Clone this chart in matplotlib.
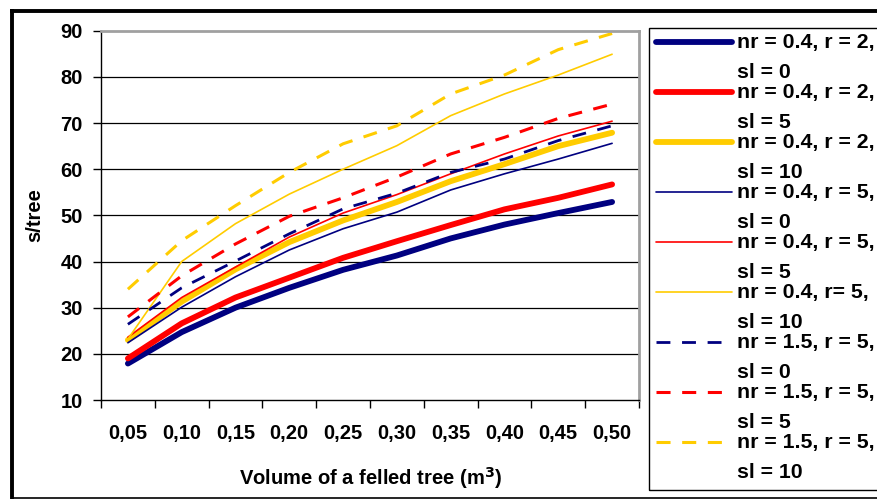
import matplotlib.pyplot as plt
from matplotlib.lines import Line2D
from matplotlib.patches import Rectangle

plt.rcParams['font.family'] = ['Liberation Sans', 'DejaVu Sans']
plt.rcParams['font.weight'] = 'bold'

# data
volumes = ["0,05", "0,10", "0,15", "0,20", "0,25", "0,30", "0,35", "0,40", "0,45", "0,50"]
nr04_r2_sl0 = [17.9, 24.7, 30.0, 34.3, 38.2, 41.3, 45.0, 48.0, 50.5, 52.9]
nr04_r2_sl5 = [19.0, 26.6, 32.2, 36.5, 40.8, 44.4, 47.9, 51.3, 53.8, 56.7]
nr04_r2_sl10 = [23.0, 31.3, 38.3, 44.2, 48.9, 52.9, 57.4, 61.1, 65.0, 67.9]
nr04_r5_sl0 = [22.4, 30.1, 36.7, 42.5, 47.1, 50.7, 55.5, 59.0, 62.2, 65.6]
nr04_r5_sl5 = [23.6, 32.2, 38.8, 45.3, 50.5, 54.5, 59.0, 63.3, 67.2, 70.4]
nr04_r5_sl10 = [23.2, 40.0, 48.2, 54.6, 60.0, 65.1, 71.6, 76.3, 80.4, 84.9]
nr15_r5_sl0 = [26.4, 34.3, 40.1, 46.0, 51.4, 54.8, 59.3, 62.2, 66.2, 69.4]
nr15_r5_sl5 = [28.0, 36.9, 43.8, 49.8, 53.8, 58.3, 63.3, 66.9, 71.0, 74.1]
nr15_r5_sl10 = [34.0, 44.5, 52.1, 59.3, 65.5, 69.4, 76.3, 80.4, 85.9, 89.4]

labels = ["nr = 0.4, r = 2,\nsl = 0", "nr = 0.4, r = 2,\nsl = 5", "nr = 0.4, r = 2,\nsl = 10",
          "nr = 0.4, r = 5,\nsl = 0", "nr = 0.4, r = 5,\nsl = 5", "nr = 0.4, r= 5,\nsl = 10",
          "nr = 1.5, r = 5,\nsl = 0", "nr = 1.5, r = 5,\nsl = 5", "nr = 1.5, r = 5,\nsl = 10"]
series = [nr04_r2_sl0, nr04_r2_sl5, nr04_r2_sl10, nr04_r5_sl0, nr04_r5_sl5,
          nr04_r5_sl10, nr15_r5_sl0, nr15_r5_sl5, nr15_r5_sl10]

navy, red, gold = '#000080', '#FF0000', '#FFCC00'
styles = [
    dict(color=navy, lw=4.2, ls='-'),
    dict(color=red, lw=4.2, ls='-'),
    dict(color=gold, lw=4.2, ls='-'),
    dict(color=navy, lw=1.2, ls='-'),
    dict(color=red, lw=1.2, ls='-'),
    dict(color=gold, lw=1.2, ls='-'),
    dict(color=navy, lw=2.0, ls=(0, (5.0, 4.2))),
    dict(color=red, lw=2.2, ls=(0, (4.6, 3.8))),
    dict(color=gold, lw=2.2, ls=(0, (4.6, 3.8))),
]

W, H = 878, 499
FS = 14.5
fig = plt.figure(figsize=(W / 100, H / 100), dpi=100)


def fx(px):
    return px / W


def fy(py):
    return 1 - py / H


ax = fig.add_axes([fx(101), fy(400), fx(639) - fx(101), fy(30.7) - fy(400)])

x = list(range(len(volumes)))
for s, st in zip(series, styles):
    ax.plot(x, s, color=st['color'], lw=st['lw'], ls=st['ls'],
            solid_capstyle='round', dash_capstyle='butt', solid_joinstyle='round')

ax.set_xlim(-0.5, len(volumes) - 0.5)
ax.set_ylim(10, 90)
ax.set_yticks(range(10, 91, 10))
ax.set_xticks([i - 0.5 for i in range(len(volumes) + 1)])
ax.set_xticklabels([])
ax.set_xticks(x, minor=True)
ax.set_xticklabels(volumes, minor=True)
ax.tick_params(axis='x', which='major', direction='out', length=6, width=1, color='black')
ax.tick_params(axis='x', which='minor', length=0, pad=17, labelsize=FS)
ax.tick_params(axis='y', direction='out', length=6, width=1, pad=7, labelsize=FS)
for lab in ax.get_xticklabels(minor=True) + ax.get_yticklabels():
    lab.set_fontweight('bold')

for v in range(20, 90, 10):
    ax.axhline(v, color='black', lw=0.9, zorder=0)

ax.spines['left'].set_color('black')
ax.spines['bottom'].set_color('black')
ax.spines['left'].set_linewidth(1)
ax.spines['bottom'].set_linewidth(1)
ax.spines['top'].set_color('#A0A0A0')
ax.spines['right'].set_color('#A0A0A0')
ax.spines['top'].set_linewidth(2)
ax.spines['right'].set_linewidth(2)

fig.text(fx(35), fy(215), "s/tree", rotation=90, ha='center', va='center',
         fontsize=FS, fontweight='bold')
fig.text(fx(371), fy(478), "Volume of a felled tree (m$^{\\mathbf{3}}$)", ha='center', va='center',
         fontsize=FS, fontweight='bold')

# outer frame
fig.add_artist(Line2D([fx(12), fx(880)], [fy(11), fy(11)], color='black', lw=2.8))
fig.add_artist(Line2D([fx(12), fx(12)], [fy(11), fy(497.5)], color='black', lw=2.8))
fig.add_artist(Line2D([fx(12), fx(880)], [fy(497.5), fy(497.5)], color='black', lw=1.2))

# legend
fig.add_artist(Rectangle((fx(649), fy(490)), fx(900) - fx(649), fy(28.3) - fy(490),
                         transform=fig.transFigure, fill=False, edgecolor='black', lw=1))
for i, (lab, st) in enumerate(zip(labels, styles)):
    y0 = 42.3 + 50 * i
    fig.add_artist(Line2D([fx(656), fx(732)], [fy(y0), fy(y0)], color=st['color'],
                          lw=st['lw'], ls=st['ls'], solid_capstyle='round', dash_capstyle='butt'))
    l1, l2 = lab.split('\n')
    fig.text(fx(737), fy(y0), l1, ha='left', va='center', fontsize=15.3, fontweight='bold')
    fig.text(fx(737), fy(y0 + 30.4), l2, ha='left', va='center', fontsize=15.3, fontweight='bold')

fig.savefig('out.png', dpi=100)
